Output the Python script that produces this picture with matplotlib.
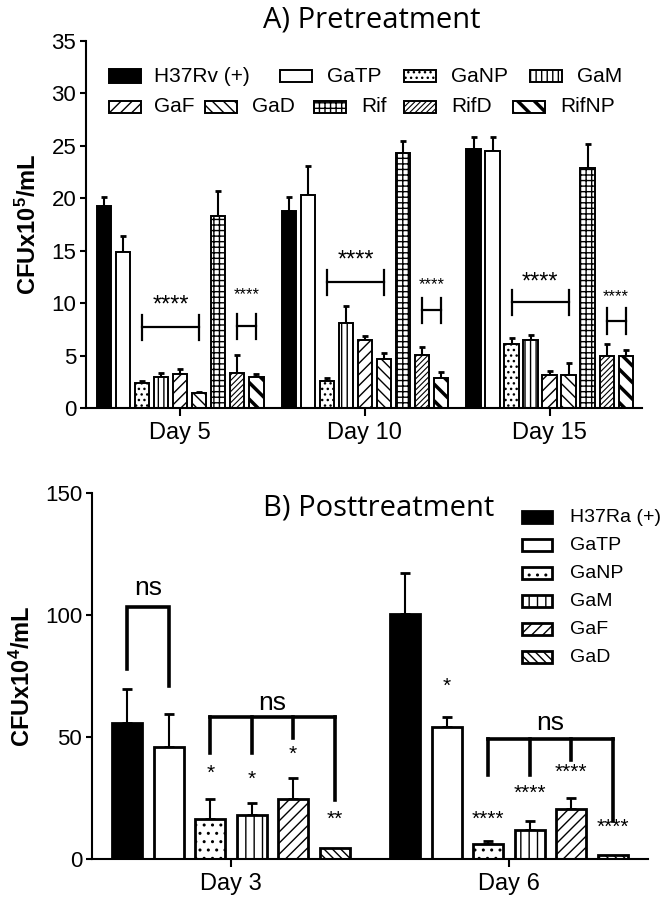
import matplotlib
matplotlib.use('Agg')
import matplotlib.pyplot as plt
from matplotlib.patches import Rectangle
import numpy as np

plt.rcParams['font.family'] = ['Liberation Sans', 'DejaVu Sans']
plt.rcParams['mathtext.fontset'] = 'custom'
plt.rcParams['mathtext.rm'] = 'Liberation Sans:bold'
plt.rcParams['mathtext.default'] = 'rm'
plt.rcParams['hatch.linewidth'] = 1.0

# ---------------- Data: panel A (CFU x10^5/mL) ----------------
days_a = ['Day 5', 'Day 10', 'Day 15']
series_a = ['H37Rv (+)', 'GaTP', 'GaNP', 'GaM', 'GaF', 'GaD', 'Rif', 'RifD', 'RifNP']
h37rv_a = [19.3, 18.8, 24.7]
gatp_a = [14.9, 20.3, 24.5]
ganp_a = [2.4, 2.6, 6.1]
gam_a = [3.0, 8.1, 6.5]
gaf_a = [3.2, 6.5, 3.15]
gad_a = [1.4, 4.7, 3.15]
rif_a = [18.3, 24.3, 22.9]
rifd_a = [3.3, 5.1, 5.0]
rifnp_a = [3.0, 2.9, 5.0]
h37rv_a_err = [0.8, 1.3, 1.1]
gatp_a_err = [1.5, 2.8, 1.3]
ganp_a_err = [0.2, 0.3, 0.6]
gam_a_err = [0.3, 1.6, 0.5]
gaf_a_err = [0.5, 0.4, 0.35]
gad_a_err = [0.15, 0.5, 1.15]
rif_a_err = [2.4, 1.2, 2.3]
rifd_a_err = [1.8, 0.7, 1.1]
rifnp_a_err = [0.2, 0.5, 0.5]
# significance annotations panel A
sig_a_label = '****'
sig_a_br1_y = [7.7, 12.0, 10.1]
sig_a_br1_txt = [9.8, 14.1, 12.0]
sig_a_br2_y = [7.8, 9.3, 8.3]
sig_a_br2_txt = [10.8, 11.8, 10.6]

# ---------------- Data: panel B (CFU x10^4/mL) ----------------
days_b = ['Day 3', 'Day 6']
series_b = ['H37Ra (+)', 'GaTP', 'GaNP', 'GaM', 'GaF', 'GaD']
h37ra_b = [55.7, 100.3]
gatp_b = [46.1, 54.3]
ganp_b = [16.4, 6.3]
gam_b = [18.0, 11.7]
gaf_b = [24.6, 20.6]
gad_b = [4.5, 1.5]
h37ra_b_err = [14.0, 17.0]
gatp_b_err = [13.4, 3.8]
ganp_b_err = [8.2, 0.9]
gam_b_err = [4.9, 4.0]
gaf_b_err = [8.4, 4.4]
gad_b_err = [0.0, 0.0]
# significance annotations panel B
ns1_top = 103.4
ns1_legs = [77.8, 70.7]
ns1_txt = 111.0
ns2_top = [58.4, 49.1]
ns2_legs = [[43.4, 43.4, 49.5, 24.0], [34.5, 34.5, 40.7, 15.4]]
ns2_txt = [63.8, 55.9]
stars_b = [['', '', '*', '*', '*', '**'], ['', '*', '****', '****', '****', '****']]
stars_b_y = [[0, 0, 35.2, 32.5, 42.7, 16.1], [0, 70.7, 16.1, 27.0, 35.5, 13.1]]

# ---------------- Figure ----------------
W, H = 666, 902
fig = plt.figure(figsize=(W / 100, H / 100), dpi=100)


def fx(px):
    return px / W


def fy(py):
    return 1 - py / H


axA = fig.add_axes([fx(86), fy(408), fx(642) - fx(86), fy(41) - fy(408)])
axB = fig.add_axes([fx(92), fy(859), fx(648) - fx(92), fy(493) - fy(859)])

vals_a = [h37rv_a, gatp_a, ganp_a, gam_a, gaf_a, gad_a, rif_a, rifd_a, rifnp_a]
errs_a = [h37rv_a_err, gatp_a_err, ganp_a_err, gam_a_err, gaf_a_err, gad_a_err,
          rif_a_err, rifd_a_err, rifnp_a_err]
style_a = [('black', None, 1.0), ('white', None, 1.0), ('white', '...', 1.0),
           ('white', '|||', 1.0), ('white', '///', 1.0), ('white', '\\\\\\', 1.0),
           ('white', '+++', 1.0), ('white', '//////', 0.8), ('white', '\\\\', 2.5)]

xa = np.arange(len(days_a))
pitch_a, width_a = 0.103, 0.078
off_a = (np.arange(len(series_a)) - 4) * pitch_a
for i in range(len(series_a)):
    fc, hatch, hlw = style_a[i]
    bars = axA.bar(xa + off_a[i], vals_a[i], width_a, color=fc, edgecolor='black',
                   linewidth=1.4, hatch=hatch, zorder=2)
    for b in bars:
        try:
            b.set_hatch_linewidth(hlw)
        except Exception:
            pass
    axA.errorbar(xa + off_a[i], vals_a[i], yerr=[np.zeros(len(xa)), errs_a[i]],
                 fmt='none', ecolor='black', elinewidth=1.5, capsize=2.3,
                 capthick=2.0, zorder=1)

# brackets panel A
for d in range(len(days_a)):
    x1, x2 = xa[d] + off_a[2], xa[d] + off_a[5]
    y = sig_a_br1_y[d]
    axA.plot([x1, x2], [y, y], color='black', lw=1.6, zorder=3)
    axA.plot([x1, x1], [y - 1.2, y + 1.2], color='black', lw=1.6, zorder=3)
    axA.plot([x2, x2], [y - 1.2, y + 1.2], color='black', lw=1.6, zorder=3)
    axA.text((x1 + x2) / 2, sig_a_br1_txt[d], sig_a_label, ha='center', va='center',
             fontsize=17)
    x1, x2 = xa[d] + off_a[7], xa[d] + off_a[8]
    y = sig_a_br2_y[d]
    axA.plot([x1, x2], [y, y], color='black', lw=1.6, zorder=3)
    axA.plot([x1, x1], [y - 1.2, y + 1.2], color='black', lw=1.6, zorder=3)
    axA.plot([x2, x2], [y - 1.2, y + 1.2], color='black', lw=1.6, zorder=3)
    axA.text((x1 + x2) / 2, sig_a_br2_txt[d], sig_a_label, ha='center', va='center',
             fontsize=12)

axA.set_xlim(-0.51, 2.5)
axA.set_ylim(0, 35)
axA.set_yticks(np.arange(0, 36, 5))
axA.set_xticks(xa, days_a)
axA.tick_params(axis='x', length=6, width=1.5, pad=4, labelsize=17)
axA.tick_params(axis='y', length=4, width=1.5, pad=3, labelsize=16)
for s in ['top', 'right']:
    axA.spines[s].set_visible(False)
for s in ['left', 'bottom']:
    axA.spines[s].set_linewidth(1.5)

# legend panel A (GraphPad-style manual layout)
leg_a_rows = [[0, 1, 2, 3], [4, 5, 6, 7, 8]]
leg_a_y = [76, 107]
leg_a_px = [[109, 280, 404, 530], [109, 205, 314, 404, 513]]
leg_a_tx = [[154, 327, 451, 577], [154, 252, 361, 451, 560]]
for r, row in enumerate(leg_a_rows):
    for j, k in enumerate(row):
        fc, hatch, hlw = style_a[k]
        hgt = 14 if k == 0 else 11
        rect = Rectangle((fx(leg_a_px[r][j]), fy(leg_a_y[r] + hgt / 2)), 32 / W, hgt / H,
                         transform=fig.transFigure, facecolor=fc, edgecolor='black',
                         linewidth=1.4, hatch=hatch)
        try:
            rect.set_hatch_linewidth(hlw)
        except Exception:
            pass
        fig.patches.append(rect)
        fig.text(fx(leg_a_tx[r][j]), fy(leg_a_y[r]), series_a[k], ha='left', va='center',
                 fontsize=15)

fig.text(fx(372), fy(20), 'A) Pretreatment', ha='center', va='center', fontsize=21,
         family=['Open Sans', 'DejaVu Sans'])
fig.text(fx(28), fy(224), r'CFUx10$^5$/mL', rotation=90, ha='center', va='center',
         fontsize=17, fontweight='bold')

# ---------------- Panel B ----------------
vals_b = [h37ra_b, gatp_b, ganp_b, gam_b, gaf_b, gad_b]
errs_b = [h37ra_b_err, gatp_b_err, ganp_b_err, gam_b_err, gaf_b_err, gad_b_err]
style_b = [('black', None), ('white', None), ('white', '..'), ('white', '||'),
           ('white', '///'), ('white', '\\\\\\\\')]
xb = np.arange(len(days_b))
pitch_b, width_b = 0.149, 0.108
off_b = (np.arange(len(series_b)) - 2.5) * pitch_b
for i in range(len(series_b)):
    fc, hatch = style_b[i]
    axB.bar(xb + off_b[i], vals_b[i], width_b, color=fc, edgecolor='black',
            linewidth=2.0, hatch=hatch, zorder=2)
    e = np.array(errs_b[i])
    if e.max() > 0:
        axB.errorbar(xb + off_b[i], vals_b[i], yerr=[np.zeros(len(xb)), e],
                     fmt='none', ecolor='black', elinewidth=1.5, capsize=3.6,
                     capthick=2.0, zorder=1)

blw = 2.6
# ns bracket over H37Ra vs GaTP (Day 3)
xl, xr = xb[0] + off_b[0], xb[0] + off_b[1]
axB.plot([xl, xl, xr, xr], [ns1_legs[0], ns1_top, ns1_top, ns1_legs[1]], color='black',
         lw=blw, solid_joinstyle='miter')
axB.text((xl + xr) / 2, ns1_txt, 'ns', ha='center', va='center', fontsize=19)
for d in range(len(days_b)):
    xs = [xb[d] + off_b[k] for k in range(2, 6)]
    axB.plot([xs[0], xs[-1]], [ns2_top[d], ns2_top[d]], color='black', lw=blw)
    for k, xv in enumerate(xs):
        axB.plot([xv, xv], [ns2_legs[d][k], ns2_top[d]], color='black', lw=blw)
    axB.text((xs[0] + xs[-1]) / 2, ns2_txt[d], 'ns', ha='center', va='center', fontsize=19)
    for k in range(len(series_b)):
        if stars_b[d][k]:
            axB.text(xb[d] + off_b[k], stars_b_y[d][k], stars_b[d][k], ha='center',
                     va='center', fontsize=15)

axB.set_xlim(-0.5, 1.5)
axB.set_ylim(0, 150)
axB.set_yticks([0, 50, 100, 150])
axB.set_xticks(xb, days_b)
axB.tick_params(axis='x', length=6, width=1.5, pad=4, labelsize=17)
axB.tick_params(axis='y', length=4, width=1.5, pad=3, labelsize=16)
for s in ['top', 'right']:
    axB.spines[s].set_visible(False)
for s in ['left', 'bottom']:
    axB.spines[s].set_linewidth(1.5)

# legend panel B
for i in range(len(series_b)):
    fc, hatch = style_b[i]
    yc = 517 + 28 * i
    rect = Rectangle((fx(522), fy(yc + 6)), 30 / W, 12 / H, transform=fig.transFigure,
                     facecolor=fc, edgecolor='black', linewidth=2.0, hatch=hatch)
    fig.patches.append(rect)
    fig.text(fx(570), fy(yc), series_b[i], ha='left', va='center', fontsize=14)

fig.text(fx(379), fy(508), 'B) Posttreatment', ha='center', va='center', fontsize=21,
         family=['Open Sans', 'DejaVu Sans'])
fig.text(fx(22), fy(676), r'CFUx10$^4$/mL', rotation=90, ha='center', va='center',
         fontsize=17, fontweight='bold')

fig.savefig('out.png', dpi=100)
